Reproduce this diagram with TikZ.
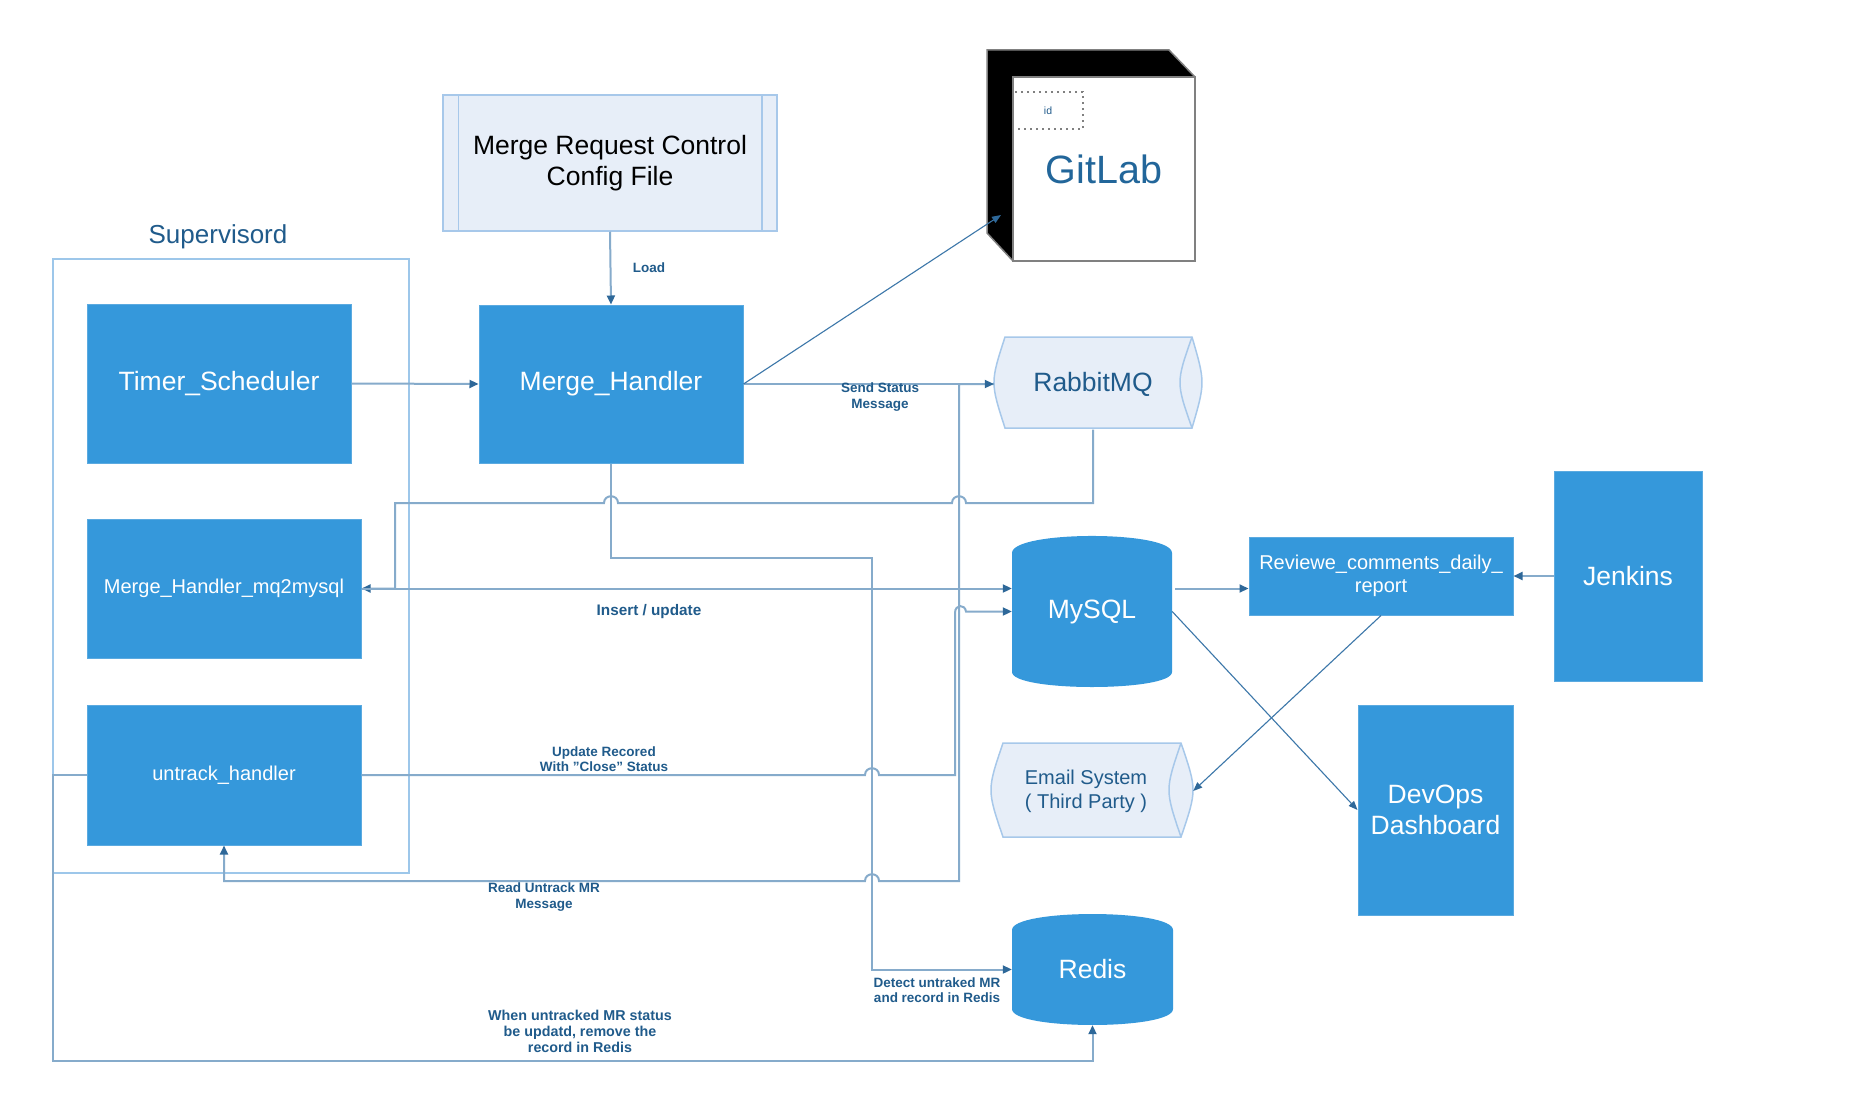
\documentclass[tikz,border=0pt]{standalone}
\usepackage{fontspec}
\setmainfont{Liberation Sans}
\usetikzlibrary{arrows.meta,calc}
\definecolor{boxblue}{HTML}{3598DB}
\definecolor{boxedge}{HTML}{5BAAE0}
\definecolor{linec}{HTML}{86ABCB}
\definecolor{tipc}{HTML}{2E6899}
\definecolor{labelc}{HTML}{205B8B}
\definecolor{lightfill}{HTML}{E7EEF8}
\definecolor{lightedge}{HTML}{A7C8EA}
\definecolor{framec}{HTML}{9DC7EA}
\definecolor{diagc}{HTML}{3C77A9}
\definecolor{gitc}{HTML}{22669A}
\begin{document}
\begin{tikzpicture}[x=1pt,y=-1pt,
  bluebox/.style={rectangle, fill=boxblue, draw=boxedge, line width=1pt, text=white, align=center, inner sep=0pt},
  bigtext/.style={font=\fontsize{26.5}{31}\selectfont},
  midtext/.style={font=\fontsize{20}{23}\selectfont},
  lbl/.style={text=labelc, align=center, inner sep=0pt, font=\bfseries\fontsize{13.5}{15.5}\selectfont},
  conn/.style={draw=linec, line width=2pt, -{Triangle[length=9pt,width=8pt,color=tipc,fill=tipc]}},
  diag/.style={draw=diagc, line width=1.1pt, -{Triangle[length=9pt,width=7pt,color=tipc,fill=tipc]}},
  lightshape/.style={fill=lightfill, draw=lightedge, line width=1.5pt},
  shapetext/.style={inner sep=0pt, align=center}]
\useasboundingbox[fill=white] (0,0) rectangle (1866,1116);

% Supervisord frame
\draw[framec, line width=2pt] (53,259) rectangle (409,873);
\node[text=labelc, font=\fontsize{26}{30}\selectfont] (suplbl) at (218,237) {Supervisord};

% Config file
\node[lightshape, minimum width=334pt, minimum height=136pt, align=center, bigtext] (config) at (610,163) {Merge Request Control\\Config File};
\draw[lightedge, line width=1.5pt] ([xshift=16pt]config.north west) -- ([xshift=16pt]config.south west);
\draw[lightedge, line width=1.5pt] ([xshift=-16pt]config.north east) -- ([xshift=-16pt]config.south east);

% GitLab cube
\fill[black] (987,50) -- (1169,50) -- (1195,77) -- (1013,77) -- (1013,261) -- (987,233) -- cycle;
\draw[gray, line width=1.5pt] (987,233) -- (987,50) -- (1169,50) -- (1195,77);
\draw[gray, line width=1.5pt] (987,233) -- (1013,261);
\node[draw=gray, line width=2pt, fill=white, minimum width=182pt, minimum height=184pt, text=gitc, font=\fontsize{39.5}{44}\selectfont] (gitlab) at (1104,169) {GitLab};
\draw[gray, line width=1.5pt, dash pattern=on 2pt off 4pt] (1013,92) rectangle (1083,129);
\node[text=labelc, font=\fontsize{10.5}{12}\selectfont] (idlbl) at (1048,111) {id};
\coordinate (gitin) at (1001,215);

% RabbitMQ shape
\path[lightshape] (1005,337) -- (1192,337) .. controls (1205.3,382.5) .. (1192,428) -- (1005,428) .. controls (990.3,382.5) .. (1005,337) -- cycle;
\draw[lightedge, line width=1.5pt] (1192,337) .. controls (1176,382.5) .. (1192,428);
\node[shapetext, minimum width=198pt, minimum height=91pt, text=labelc, bigtext] (rabbit) at (1093,384) {RabbitMQ};

% Email shape
\path[lightshape] (1003,743) -- (1181,743) .. controls (1197,790) .. (1181,837) -- (1003,837) .. controls (987,790) .. (1003,743) -- cycle;
\draw[lightedge, line width=1.5pt] (1181,743) .. controls (1165,790) .. (1181,837);
\node[shapetext, minimum width=190pt, minimum height=94pt, text=labelc, font=\fontsize{20}{24}\selectfont] (email) at (1086,791) {Email System\\( Third Party )};

% MySQL drum
\fill[boxblue] (1012,553) .. controls (1012,530.3) and (1172,530.3) .. (1172,553) -- (1172,672) .. controls (1172,692) and (1012,692) .. (1012,672) -- cycle;
\node[shapetext, minimum width=160pt, minimum height=151pt, text=white, bigtext] (mysql) at (1092,611.5) {MySQL};

% Redis drum
\fill[boxblue] (1012,930) .. controls (1012,908.7) and (1173,908.7) .. (1173,930) -- (1173,1009) .. controls (1173,1030.3) and (1012,1030.3) .. (1012,1009) -- cycle;
\node[shapetext, minimum width=161pt, minimum height=111pt, text=white, bigtext] (redis) at (1092.5,969.5) {Redis};

% Blue boxes
\node[bluebox, bigtext, minimum width=264pt, minimum height=159pt] (timer) at (219,383.5) {Timer\_Scheduler};
\node[bluebox, bigtext, minimum width=264pt, minimum height=158pt] (merge) at (611,384) {Merge\_Handler};
\node[bluebox, midtext, minimum width=274pt, minimum height=139pt] (mq2) at (224,588.5) {Merge\_Handler\_mq2mysql};
\node[bluebox, midtext, minimum width=274pt, minimum height=140pt] (untrack) at (224,775) {untrack\_handler};
\node[bluebox, midtext, minimum width=264pt, minimum height=78pt] (reviewe) at (1381,576) {Reviewe\_comments\_daily\_\\report};
\node[bluebox, bigtext, minimum width=148pt, minimum height=210pt] (jenkins) at (1628,576) {Jenkins};
\node[bluebox, bigtext, minimum width=155pt, minimum height=210pt] (devops) at (1435.5,810) {DevOps\\Dashboard};

% Connectors
\draw[conn] (config.south) -- (merge.north);
\node[lbl] (lblload) at (649,268) {Load};

\draw[conn] (timer.east) -- (merge.west);

% RabbitMQ -> untrack_handler (Read Untrack MR Message)
\draw[conn] (rabbit.west) -- (959,384) -- (959,881) -- (879,881) .. controls (879,872) and (865,872) .. (865,881) -| (untrack.south);
\node[lbl] (lblread) at (544,897) {Read Untrack MR\\Message};

% Merge -> RabbitMQ
\draw[conn] (merge.east) -- (rabbit.west);
\node[lbl] (lblsend) at (880,397) {Send Status\\Message};

% Merge -> GitLab
\draw[diag] (merge.east) -- (gitin);

% RabbitMQ -> mq2mysql
\draw[conn] (rabbit.south) -- (1093,503) -- (966,503) .. controls (966,494) and (952,494) .. (952,503) -- (618,503) .. controls (618,494) and (604,494) .. (604,503) -- (395,503) |- (mq2.east);

% mq2mysql -> MySQL
\draw[conn] (mq2.east) -- (mq2.east -| mysql.west);
\node[lbl, font=\bfseries\fontsize{15.3}{17}\selectfont] (lblins) at (649,612) {Insert / update};

% Merge -> Redis
\draw[conn] (merge.south) |- (872,558) |- (redis.west);
\node[lbl] (lbldetect) at (937,990) {Detect untraked MR\\and record in Redis};

% untrack -> MySQL
\draw[conn] (untrack.east) -- (865,775) .. controls (865,766) and (879,766) .. (879,775) -- (955,775) -- (955,613) .. controls (955,604) and (965,604) .. (966,611.5) -- (mysql.west);
\node[lbl] (lblupd) at (604,759) {Update Recored\\With "Close" Status};

% untrack -> Redis
\draw[conn] (untrack.west) -- (53,775) -- (53,1061) -| (redis.south);
\node[lbl, font=\bfseries\fontsize{14.3}{16}\selectfont] (lblwhen) at (580,1031) {When untracked MR status\\be updatd, remove the\\record in Redis};

% MySQL -> Reviewe
\draw[conn] ($(mysql.east |- mq2.east)+(3,0)$) -- (reviewe.west |- mq2.east);
% Jenkins -> Reviewe
\draw[conn] (jenkins.west) -- (reviewe.east);
% Reviewe -> Email
\draw[diag] (reviewe.south) -- ([xshift=12pt]email.east);
% MySQL -> DevOps
\draw[diag] (mysql.east) -- (devops.west);
\end{tikzpicture}
\end{document}
